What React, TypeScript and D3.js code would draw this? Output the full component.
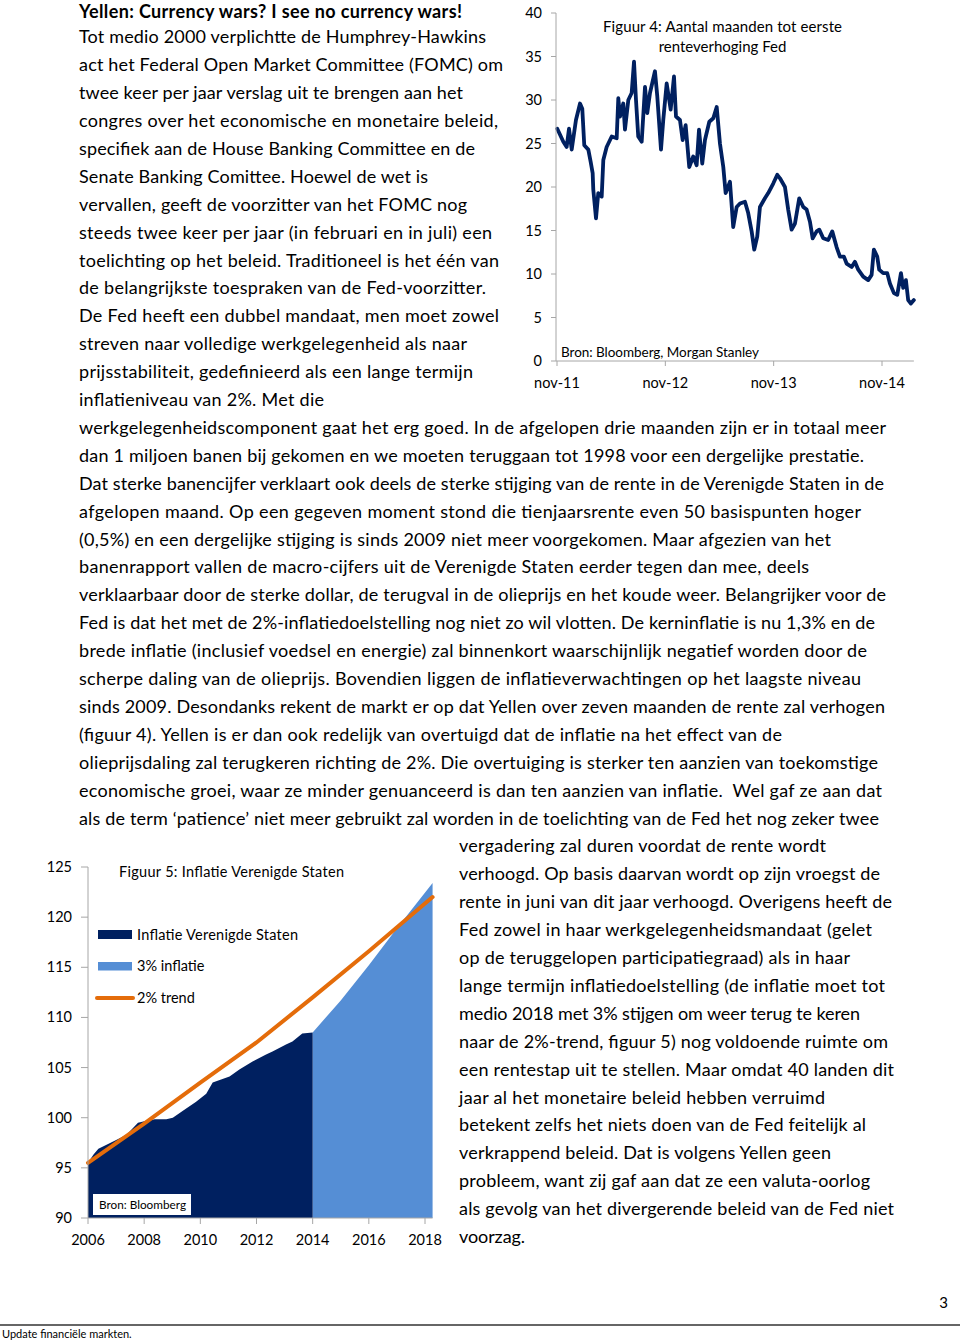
import React from "react";
import * as d3 from "d3";

const FONT = "Lato, 'Open Sans', sans-serif";

// ---------- Figure 4: months until first Fed hike ----------
const f4Months = [0.03, 0.7, 1.07, 1.33, 1.63, 2.1, 2.55, 2.8, 3.02, 3.47, 3.73, 3.95, 4.02, 4.32, 4.57, 4.95, 5.13, 5.5, 6.06, 6.61, 6.79, 6.98, 7.34, 7.53, 7.9, 8.27, 8.53, 8.75, 9.0, 9.38, 9.75, 10.0, 10.3, 10.85, 11.11, 11.52, 11.77, 12.15, 12.59, 12.96, 13.18, 13.62, 13.92, 14.25, 14.65, 15.09, 15.47, 15.73, 16.09, 16.39, 16.87, 17.31, 17.69, 18.05, 18.42, 18.68, 19.16, 19.52, 19.9, 20.27, 20.82, 21.18, 21.56, 21.85, 22.18, 22.48, 23.03, 23.4, 23.95, 24.4, 24.7, 25.25, 25.61, 25.99, 26.36, 26.83, 27.28, 27.65, 28.02, 28.32, 28.76, 29.05, 29.49, 30.04, 30.49, 30.97, 31.34, 31.78, 32.08, 32.64, 33.0, 33.37, 33.92, 34.47, 34.85, 35.1, 35.47, 35.69, 36.13, 36.58, 36.88, 37.32, 37.69, 38.1, 38.35, 38.65, 38.9, 39.2, 39.53];
const f4Values = [26.7, 25.2, 24.6, 26.7, 24.3, 27.7, 29.6, 29.0, 24.8, 24.3, 22.9, 21.6, 19.7, 16.4, 19.3, 18.9, 23.1, 24.6, 25.8, 25.6, 30.2, 28.1, 29.6, 26.6, 30.0, 30.8, 34.4, 30.0, 25.8, 25.2, 31.5, 28.5, 30.8, 33.3, 30.4, 24.3, 27.7, 31.9, 28.9, 32.7, 28.1, 27.7, 25.4, 27.1, 22.3, 23.5, 22.5, 26.6, 22.7, 25.4, 27.5, 27.9, 29.2, 25.0, 22.3, 19.3, 20.6, 15.4, 17.7, 18.1, 18.3, 17.0, 14.9, 12.8, 14.3, 17.7, 18.7, 19.3, 20.4, 21.4, 21.0, 20.0, 17.4, 15.1, 15.8, 18.7, 17.7, 17.4, 16.0, 14.1, 14.9, 15.1, 14.1, 13.9, 14.9, 13.1, 12.0, 12.0, 11.2, 10.8, 11.4, 10.5, 9.7, 9.3, 9.9, 12.8, 12.0, 10.5, 10.1, 10.1, 8.9, 7.8, 7.6, 10.1, 8.4, 9.3, 7.0, 6.6, 7.0];
const f4YTicks = [0, 5, 10, 15, 20, 25, 30, 35, 40];
const f4XTickMonths = [0, 12, 24, 36];
const f4XTickLabels = ["nov-11", "nov-12", "nov-13", "nov-14"];
const f4Title = ["Figuur 4: Aantal maanden tot eerste", "renteverhoging Fed"];
const f4Source = "Bron: Bloomberg, Morgan Stanley";

// ---------- Figure 5: US inflation ----------
const cpiYears = [2006.0, 2006.19, 2006.37, 2006.66, 2007.02, 2007.37, 2007.61, 2007.78, 2008.08, 2008.38, 2008.79, 2009.02, 2009.38, 2009.85, 2010.21, 2010.44, 2010.74, 2011.04, 2011.39, 2011.86, 2012.34, 2012.57, 2013.05, 2013.28, 2013.63, 2014.0];
const cpiValues = [95.5, 96.3, 96.9, 97.3, 97.8, 98.3, 99.0, 99.5, 99.7, 99.85, 99.85, 100.0, 100.7, 101.6, 102.4, 103.5, 103.8, 104.1, 104.8, 105.6, 106.3, 106.6, 107.3, 107.6, 108.4, 108.5];
const infl3Years = [2014.0, 2015.0, 2016.0, 2017.0, 2018.27];
const infl3Values = [108.5, 111.7, 115.2, 118.9, 123.4];
const trend2Years = [2006.0, 2008.0, 2010.0, 2012.0, 2014.0, 2016.0, 2018.27];
const trend2Values = [95.5, 99.4, 103.5, 107.5, 112.0, 116.6, 122.0];
const f5YTicks = [90, 95, 100, 105, 110, 115, 120, 125];
const f5XTicks = [2006, 2008, 2010, 2012, 2014, 2016, 2018];
const f5Title = "Figuur 5: Inflatie Verenigde Staten";
const f5Legend = ["Inflatie Verenigde Staten", "3% inflatie", "2% trend"];
const f5Source = "Bron: Bloomberg";

// ---------- Body text ----------
const headline = "Yellen: Currency wars? I see no currency wars!";
const leftLines = [
  "Tot medio 2000 verplichtte de Humphrey-Hawkins",
  "act het Federal Open Market Committee (FOMC) om",
  "twee keer per jaar verslag uit te brengen aan het",
  "congres over het economische en monetaire beleid,",
  "specifiek aan de House Banking Committee en de",
  "Senate Banking Comittee. Hoewel de wet is",
  "vervallen, geeft de voorzitter van het FOMC nog",
  "steeds twee keer per jaar (in februari en in juli) een",
  "toelichting op het beleid. Traditioneel is het één van",
  "de belangrijkste toespraken van de Fed-voorzitter.",
  "De Fed heeft een dubbel mandaat, men moet zowel",
  "streven naar volledige werkgelegenheid als naar",
  "prijsstabiliteit, gedefinieerd als een lange termijn",
  "inflatieniveau van 2%. Met die",
  "werkgelegenheidscomponent gaat het erg goed. In de afgelopen drie maanden zijn er in totaal meer",
  "dan 1 miljoen banen bij gekomen en we moeten teruggaan tot 1998 voor een dergelijke prestatie.",
  "Dat sterke banencijfer verklaart ook deels de sterke stijging van de rente in de Verenigde Staten in de",
  "afgelopen maand. Op een gegeven moment stond die tienjaarsrente even 50 basispunten hoger",
  "(0,5%) en een dergelijke stijging is sinds 2009 niet meer voorgekomen. Maar afgezien van het",
  "banenrapport vallen de macro-cijfers uit de Verenigde Staten eerder tegen dan mee, deels",
  "verklaarbaar door de sterke dollar, de terugval in de olieprijs en het koude weer. Belangrijker voor de",
  "Fed is dat het met de 2%-inflatiedoelstelling nog niet zo wil vlotten. De kerninflatie is nu 1,3% en de",
  "brede inflatie (inclusief voedsel en energie) zal binnenkort waarschijnlijk negatief worden door de",
  "scherpe daling van de olieprijs. Bovendien liggen de inflatieverwachtingen op het laagste niveau",
  "sinds 2009. Desondanks rekent de markt er op dat Yellen over zeven maanden de rente zal verhogen",
  "(figuur 4). Yellen is er dan ook redelijk van overtuigd dat de inflatie na het effect van de",
  "olieprijsdaling zal terugkeren richting de 2%. Die overtuiging is sterker ten aanzien van toekomstige",
  "economische groei, waar ze minder genuanceerd is dan ten aanzien van inflatie.  Wel gaf ze aan dat",
  "als de term ‘patience’ niet meer gebruikt zal worden in de toelichting van de Fed het nog zeker twee",
];
const leftEnds = [486, 503, 463, 498, 475, 428, 467, 492, 499, 486, 499, 467, 473, 324, 886, 864, 884, 861, 831, 809, 886, 875, 867, 861, 885, 782, 878, 882, 879];
const rightLines = [
  "vergadering zal duren voordat de rente wordt",
  "verhoogd. Op basis daarvan wordt op zijn vroegst de",
  "rente in juni van dit jaar verhoogd. Overigens heeft de",
  "Fed zowel in haar werkgelegenheidsmandaat (gelet",
  "op de teruggelopen participatiegraad) als in haar",
  "lange termijn inflatiedoelstelling (de inflatie moet tot",
  "medio 2018 met 3% stijgen om weer terug te keren",
  "naar de 2%-trend, figuur 5) nog voldoende ruimte om",
  "een rentestap uit te stellen. Maar omdat 40 landen dit",
  "jaar al het monetaire beleid hebben verruimd",
  "betekent zelfs het niets doen van de Fed feitelijk al",
  "verkrappend beleid. Dat is volgens Yellen geen",
  "probleem, want zij gaf aan dat ze een valuta-oorlog",
  "als gevolg van het divergerende beleid van de Fed niet",
  "voorzag.",
];
const rightEnds = [826, 880, 892, 872, 850, 885, 860, 888, 894, 825, 866, 831, 870, 894, 525];
const pageNumber = "3";
const footerText = "Update financiële markten.";

const NAVY = "#002060";
const LIGHTBLUE = "#558ed5";
const ORANGE = "#e46c0a";
const AXIS = "#a6a6a6";

export default function App() {
  // layout
  const bodySize = 18;
  const lineH = 27.9;
  const firstBase = 15.4;
  const leftX = 79;
  const rightX = 459;

  // Figure 4 scales
  const x4 = d3.scaleLinear().domain([0, 36]).range([557, 882]);
  const y4 = d3.scaleLinear().domain([0, 40]).range([361, 13]);
  const line4 = d3
    .line<number>()
    .x((_, i) => x4(f4Months[i]))
    .y((d) => y4(d));

  // Figure 5 scales
  const x5 = d3.scaleLinear().domain([2006, 2018]).range([88, 425]);
  const y5 = d3.scaleLinear().domain([90, 125]).range([1218, 867]);
  const areaCpi = d3
    .area<number>()
    .x((_, i) => x5(cpiYears[i]))
    .y0(y5(90))
    .y1((d) => y5(d));
  const area3 = d3
    .area<number>()
    .x((_, i) => x5(infl3Years[i]))
    .y0(y5(90))
    .y1((d) => y5(d));
  const line2 = d3
    .line<number>()
    .x((_, i) => x5(trend2Years[i]))
    .y((d) => y5(d));

  const x5End = x5(infl3Years[infl3Years.length - 1]);
  const x4End = x4(f4Months[f4Months.length - 1]);

  return (
    <div style={{ position: "absolute", left: 0, top: 0, width: 960, height: 1341, background: "#fff" }}>
      <svg width={960} height={1341} style={{ display: "block", fontFamily: FONT }}>
        <rect x={0} y={0} width={960} height={1341} fill="#fff" />

        {/* Body text */}
        <g fill="#000" fontSize={bodySize}>
          <text x={leftX} y={18.2} fontWeight="bold" textLength={462 - leftX} lengthAdjust="spacing">
            {headline}
          </text>
          {leftLines.map((t, i) => (
            <text
              key={"l" + i}
              x={leftX}
              y={firstBase + (i + 1) * lineH}
              textLength={leftEnds[i] - leftX}
              lengthAdjust="spacing"
              style={{ whiteSpace: "pre" }}
            >
              {t}
            </text>
          ))}
          {rightLines.map((t, i) => (
            <text
              key={"r" + i}
              x={rightX}
              y={firstBase + (leftLines.length + 1 + i) * lineH}
              textLength={rightEnds[i] - rightX}
              lengthAdjust="spacing"
            >
              {t}
            </text>
          ))}
        </g>

        {/* Figure 4 */}
        <g>
          <path d={line4(f4Values) || ""} fill="none" stroke={NAVY} strokeWidth={3.8} strokeLinejoin="round" strokeLinecap="round" />
          <line x1={556} x2={556} y1={y4(40)} y2={y4(0)} stroke={AXIS} strokeWidth={1} />
          <line x1={556} x2={x4End} y1={y4(0)} y2={y4(0)} stroke={AXIS} strokeWidth={1} />
          {f4YTicks.map((v) => (
            <g key={"y4" + v}>
              <line x1={551} x2={556} y1={y4(v)} y2={y4(v)} stroke={AXIS} />
              <text x={542} y={y4(v) + 5} textAnchor="end" fontSize={14.5} fill="#000">
                {v}
              </text>
            </g>
          ))}
          {f4XTickMonths.map((m, i) => (
            <g key={"x4" + m}>
              <line x1={x4(m)} x2={x4(m)} y1={y4(0)} y2={y4(0) + 5} stroke={AXIS} />
              <text x={x4(m)} y={388} textAnchor="middle" fontSize={14.5} fill="#000">
                {f4XTickLabels[i]}
              </text>
            </g>
          ))}
          <text x={603} y={31.5} fontSize={15} fill="#000" textLength={239} lengthAdjust="spacing">
            {f4Title[0]}
          </text>
          <text x={722.5} y={51.5} textAnchor="middle" fontSize={15} fill="#000">
            {f4Title[1]}
          </text>
          <text x={561} y={357} fontSize={13.5} fill="#000" textLength={198} lengthAdjust="spacing">
            {f4Source}
          </text>
        </g>

        {/* Figure 5 */}
        <g>
          <path d={area3(infl3Values) || ""} fill={LIGHTBLUE} />
          <path d={areaCpi(cpiValues) || ""} fill={NAVY} />
          <path d={line2(trend2Values) || ""} fill="none" stroke={ORANGE} strokeWidth={4} strokeLinecap="round" />
          <line x1={88} x2={88} y1={y5(125)} y2={y5(90)} stroke={AXIS} />
          <line x1={88} x2={x5End} y1={y5(90)} y2={y5(90)} stroke={AXIS} />
          {f5YTicks.map((v) => (
            <g key={"y5" + v}>
              <line x1={81} x2={88} y1={y5(v)} y2={y5(v)} stroke={AXIS} />
              <text x={72} y={y5(v) + 5} textAnchor="end" fontSize={14.5} fill="#000">
                {v}
              </text>
            </g>
          ))}
          {f5XTicks.map((v) => (
            <g key={"x5" + v}>
              <line x1={x5(v)} x2={x5(v)} y1={y5(90)} y2={y5(90) + 6} stroke={AXIS} />
              <text x={x5(v)} y={1245} textAnchor="middle" fontSize={14.5} fill="#000">
                {v}
              </text>
            </g>
          ))}
          <text x={119} y={877} fontSize={14.5} fill="#000" textLength={225} lengthAdjust="spacing">
            {f5Title}
          </text>
          {/* legend */}
          <rect x={98} y={930} width={34} height={9} fill={NAVY} />
          <text x={137} y={940} fontSize={14.5} fill="#000" textLength={161} lengthAdjust="spacing">
            {f5Legend[0]}
          </text>
          <rect x={98} y={962} width={34} height={8.5} fill={LIGHTBLUE} />
          <text x={137} y={971} fontSize={14.5} fill="#000">
            {f5Legend[1]}
          </text>
          <line x1={97} x2={133} y1={998} y2={998} stroke={ORANGE} strokeWidth={4} strokeLinecap="round" />
          <text x={137} y={1003} fontSize={14.5} fill="#000">
            {f5Legend[2]}
          </text>
          {/* source box */}
          <rect x={93} y={1194} width={98} height={21} fill="#fff" />
          <text x={99} y={1209} fontSize={12} fill="#000" textLength={87} lengthAdjust="spacingAndGlyphs">
            {f5Source}
          </text>
        </g>

        {/* Footer */}
        <text x={948} y={1308} textAnchor="end" fontSize={15} fill="#000">
          {pageNumber}
        </text>
        <line x1={0} x2={960} y1={1325} y2={1325} stroke="#333" strokeWidth={1.5} />
        <text x={2} y={1338} fontSize={11} fill="#000">
          {footerText}
        </text>
      </svg>
    </div>
  );
}
